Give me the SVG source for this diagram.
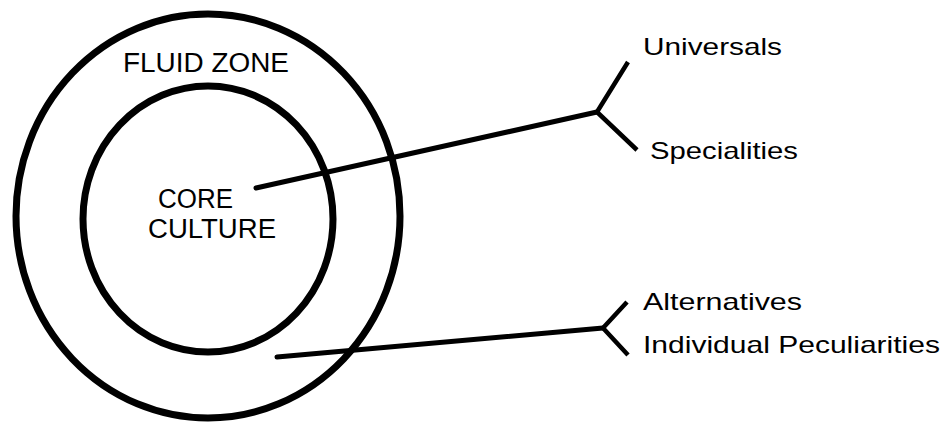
<svg xmlns="http://www.w3.org/2000/svg" width="950" height="428" viewBox="0 0 950 428">
<style>
.ring{fill:none;stroke:#000;stroke-width:7}
.lbl{font-family:"Liberation Sans","DejaVu Sans",Arial,sans-serif;fill:#000}
.cap{font-size:27px}
.term{font-size:24px}
.conn{fill:none;stroke:#000;stroke-width:5;stroke-linecap:round;stroke-linejoin:round}
.br{fill:none;stroke:#000;stroke-width:4.5;stroke-linecap:butt;stroke-linejoin:round}
</style>
<rect width="950" height="428" fill="#fff"/>
<g id="fluid-zone">
<ellipse class="ring" cx="208" cy="216" rx="192" ry="202"/>
<text class="lbl cap" x="123" y="72" textLength="166" lengthAdjust="spacingAndGlyphs">FLUID ZONE</text>
</g>
<g id="core-culture">
<ellipse class="ring" cx="208" cy="219" rx="125" ry="133"/>
<text class="lbl cap" x="158" y="208" textLength="75" lengthAdjust="spacingAndGlyphs">CORE</text>
<text class="lbl cap" x="148" y="238" textLength="128" lengthAdjust="spacingAndGlyphs">CULTURE</text>
</g>
<g id="universals"><text class="lbl term" x="643" y="55" textLength="139" lengthAdjust="spacingAndGlyphs">Universals</text></g>
<g id="specialities"><text class="lbl term" x="650" y="159" textLength="148" lengthAdjust="spacingAndGlyphs">Specialities</text></g>
<g id="alternatives"><text class="lbl term" x="643" y="310" textLength="159" lengthAdjust="spacingAndGlyphs">Alternatives</text></g>
<g id="individual-peculiarities"><text class="lbl term" x="643" y="353" textLength="297" lengthAdjust="spacingAndGlyphs">Individual Peculiarities</text></g>
<g id="connectors">
<path class="conn" d="M256 188 L597 112"/>
<path class="br" d="M628 62 L597 112 L637 150"/>
<path class="conn" d="M277 357 L603 328"/>
<path class="br" d="M627 302 L603 328 L628 355"/>
</g>
</svg>
